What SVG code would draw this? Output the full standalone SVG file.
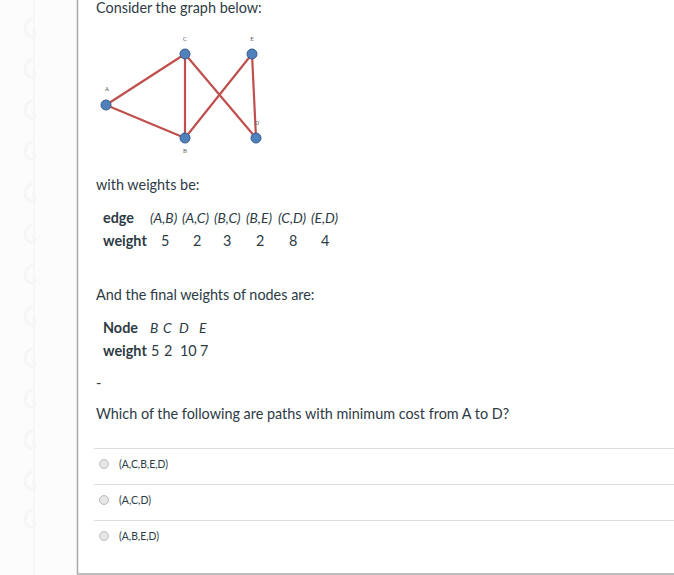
<svg xmlns="http://www.w3.org/2000/svg" width="674" height="575" viewBox="0 0 674 575">
<defs>
<style>
.t{font-family:Lato,"Open Sans","Liberation Sans",sans-serif;font-size:14.4px;fill:#2d3b45}
.b{font-weight:bold}
.i{font-style:italic;font-size:13.8px}
.o{font-family:Lato,"Open Sans","Liberation Sans",sans-serif;font-size:12px;fill:#2d3b45}
.lbl{font-family:"Liberation Serif",serif;font-size:6px;fill:#555;text-anchor:middle}
.edge{stroke:#c0504d;stroke-width:2.2;fill:none;stroke-linecap:round}
.node{fill:#4f81bd;stroke:#385d8a;stroke-width:1}
.div{stroke:#dddddd;stroke-width:1}
.radio{fill:#e6e6e6;stroke:#bdbdbd;stroke-width:1}
.curl{fill:none;stroke:#f6f6f6;stroke-width:3}
</style>
<g id="curlShape"><path class="curl" d="M34,-6 C24,-4 22,8 30,12 C36,15 36,6 32,6"/></g>
</defs>
<rect width="674" height="575" fill="#ffffff"/>
<rect x="0" y="0" width="77" height="575" fill="#fcfcfc"/>
<g id="decor">
<line x1="34" y1="0" x2="34" y2="575" stroke="#f7f7f7" stroke-width="2"/>
<use href="#curlShape" y="24"/><use href="#curlShape" y="65"/><use href="#curlShape" y="106"/><use href="#curlShape" y="147"/><use href="#curlShape" y="189"/><use href="#curlShape" y="230"/><use href="#curlShape" y="271"/><use href="#curlShape" y="312"/><use href="#curlShape" y="354"/><use href="#curlShape" y="395"/><use href="#curlShape" y="436"/><use href="#curlShape" y="477"/><use href="#curlShape" y="515"/>
</g>
<path d="M77.5,0 V574 H674" fill="none" stroke="#a8a8a8" stroke-width="1.5"/>

<text class="t" x="96" y="13">Consider the graph below:</text>

<g id="connectors">
<line class="edge" x1="106" y1="105" x2="185" y2="54"/>
<line class="edge" x1="106" y1="105" x2="185" y2="138"/>
<line class="edge" x1="185" y1="54" x2="185" y2="138"/>
<line class="edge" x1="185" y1="54" x2="256" y2="138"/>
<line class="edge" x1="185" y1="138" x2="252" y2="54"/>
<line class="edge" x1="252" y1="54" x2="256" y2="138"/>
</g>
<g id="node-A"><circle class="node" cx="106" cy="105" r="5"/><text class="lbl" x="107" y="91">A</text></g>
<g id="node-B"><circle class="node" cx="185" cy="138" r="5"/><text class="lbl" x="185" y="153">B</text></g>
<g id="node-C"><circle class="node" cx="185" cy="54" r="5"/><text class="lbl" x="185" y="41">C</text></g>
<g id="node-D"><circle class="node" cx="256" cy="138" r="5"/><text class="lbl" x="257" y="125">D</text></g>
<g id="node-E"><circle class="node" cx="252" cy="54" r="5"/><text class="lbl" x="252" y="41">E</text></g>

<text class="t" x="96" y="190">with weights be:</text>
<text class="t b" x="103" y="223">edge</text>
<text class="t i" x="150" y="223">(A,B)</text>
<text class="t i" x="182" y="223">(A,C)</text>
<text class="t i" x="214" y="223">(B,C)</text>
<text class="t i" x="246" y="223">(B,E)</text>
<text class="t i" x="278" y="223">(C,D)</text>
<text class="t i" x="311" y="223">(E,D)</text>
<text class="t b" x="103" y="246">weight</text>
<text class="t" x="161" y="246">5</text>
<text class="t" x="193" y="246">2</text>
<text class="t" x="223" y="246">3</text>
<text class="t" x="256" y="246">2</text>
<text class="t" x="289" y="246">8</text>
<text class="t" x="321" y="246">4</text>

<text class="t" x="96" y="300">And the final weights of nodes are:</text>
<text class="t b" x="103" y="333">Node</text>
<text class="t i" x="150" y="333">B</text>
<text class="t i" x="163" y="333">C</text>
<text class="t i" x="179" y="333">D</text>
<text class="t i" x="199" y="333">E</text>
<text class="t b" x="103" y="356">weight</text>
<text class="t" x="151" y="356">5</text>
<text class="t" x="164" y="356">2</text>
<text class="t" x="180" y="356">10</text>
<text class="t" x="200" y="356">7</text>
<text class="t" x="96" y="388">-</text>

<text class="t" x="96" y="419">Which of the following are paths with minimum cost from A to D?</text>

<line class="div" x1="94" y1="448.5" x2="674" y2="448.5"/>
<line class="div" x1="94" y1="484.5" x2="674" y2="484.5"/>
<line class="div" x1="94" y1="520.5" x2="674" y2="520.5"/>

<circle class="radio" cx="104" cy="464" r="4.5"/>
<text class="o" x="119" y="468" textLength="49" lengthAdjust="spacingAndGlyphs">(A,C,B,E,D)</text>
<circle class="radio" cx="104" cy="500" r="4.5"/>
<text class="o" x="119" y="504" textLength="32" lengthAdjust="spacingAndGlyphs">(A,C,D)</text>
<circle class="radio" cx="104" cy="536" r="4.5"/>
<text class="o" x="119" y="540" textLength="40" lengthAdjust="spacingAndGlyphs">(A,B,E,D)</text>
</svg>
